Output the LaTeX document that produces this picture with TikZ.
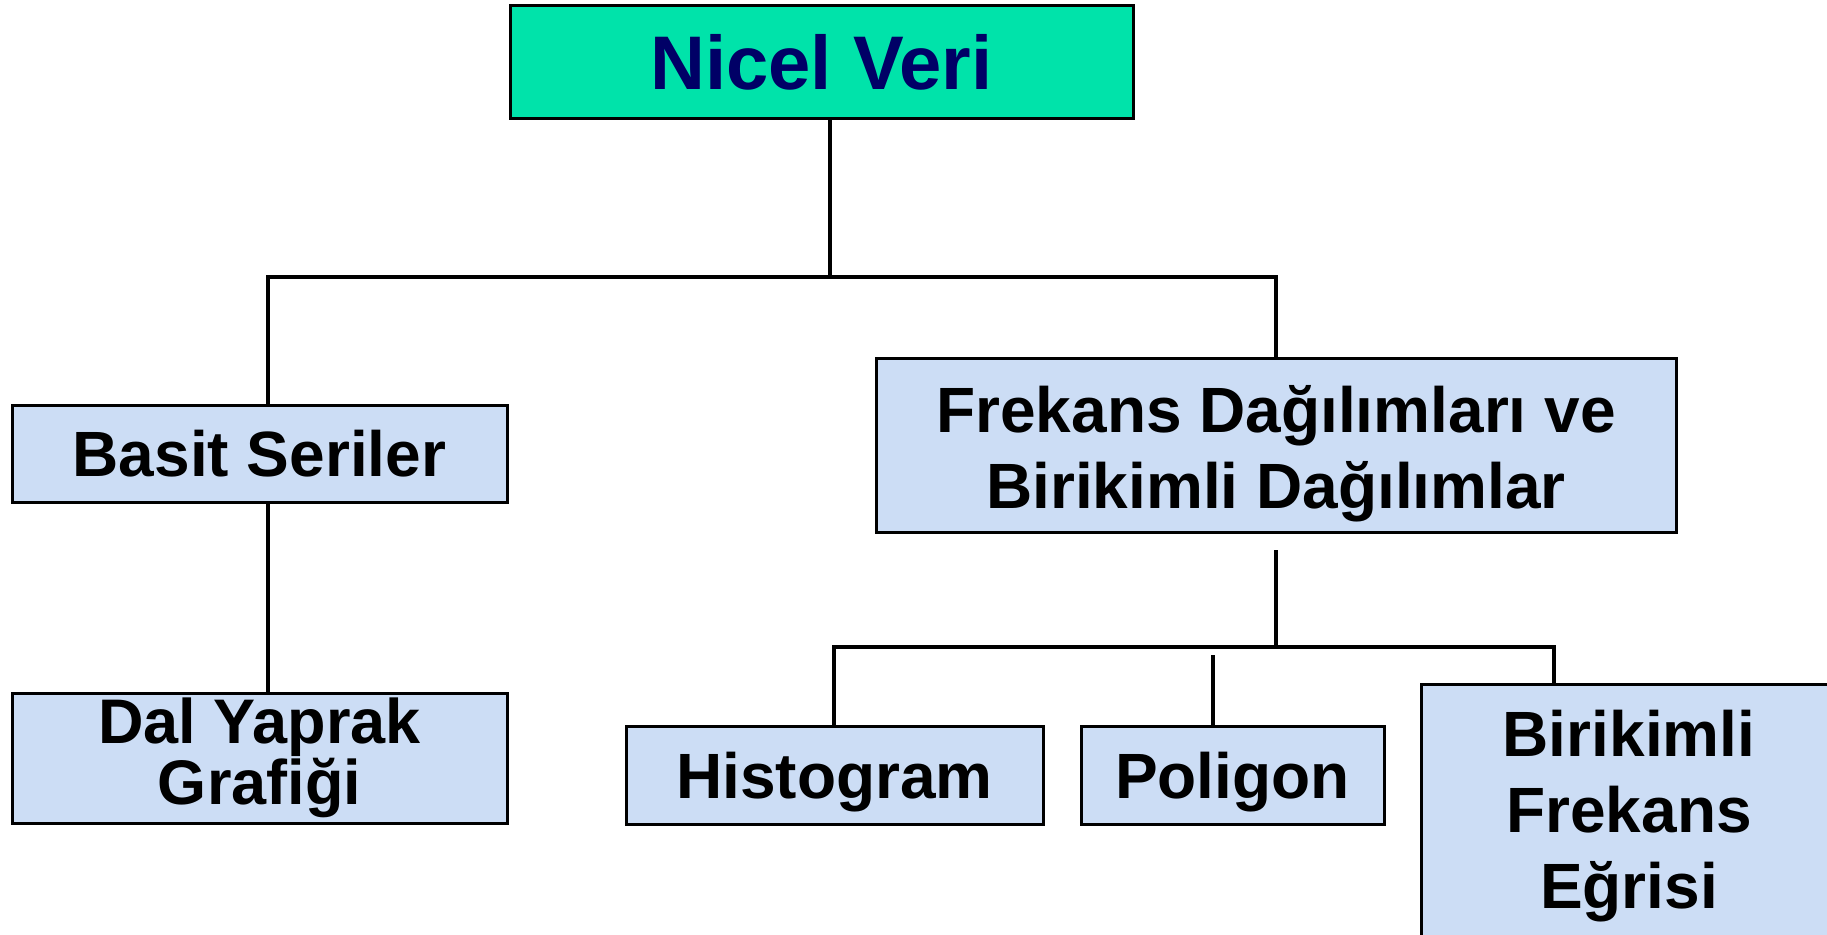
\documentclass[tikz,border=0pt]{standalone}
\usepackage{fontspec}
\setmainfont{Liberation Sans}
\definecolor{mint}{RGB}{0,227,170}
\definecolor{paleblue}{RGB}{204,221,245}
\definecolor{navy}{RGB}{0,0,102}
\begin{document}
\begin{tikzpicture}[x=1pt,y=-1pt,
  box/.style={draw=black, line width=3pt, fill=paleblue, inner sep=0pt, align=center,
    font=\bfseries\fontsize{64}{76}\selectfont},
  tag/.style={inner sep=0pt, align=center, font=\bfseries\fontsize{64}{76}\selectfont},
  link/.style={draw=black, line width=3.5pt}]
\useasboundingbox (0,0) rectangle (1827,934);
\begin{scope}
\clip (0,0) rectangle (1827,934);

% boxes
\node[box, fill=mint, text=navy, minimum width=623, minimum height=112,
  font=\bfseries\fontsize{76}{90}\selectfont] (nicel) at (821.5,62) {Nicel Veri};
\node[box, minimum width=495, minimum height=97] (basit) at (259.5,453.5) {Basit Seriler};
\node[box, minimum width=495, minimum height=130, font=\bfseries\fontsize{63}{50}\selectfont]
  (dal) at (259.5,758) {Dal Yaprak\\Grafiği};
\node[box, minimum width=800, minimum height=174] (frekans) at (1276,445) {};
\node[tag] (frekans-t) at (1276,454) {Frekans Dağılımları ve\\Birikimli Dağılımlar};
\node[box, minimum width=417, minimum height=98, text depth=0pt] (histo) at (834.5,775) {Histogram};
\node[box, minimum width=303, minimum height=98, text depth=0pt] (poli) at (1232.5,775) {Poligon};
\node[box, minimum width=416, minimum height=276] (egri) at (1629,822) {};
\node[tag] (egri-t) at (1629,816) {Birikimli\\Frekans\\Eğrisi};

% junction points
\coordinate (jT) at (830,277);
\coordinate (jL) at (268,277);
\coordinate (jR) at (1276,277);
\coordinate (kT) at (1276,550);
\coordinate (kM) at (1276,647);
\coordinate (kL) at (834,647);
\coordinate (kR) at (1554,647);
\coordinate (pT) at (1213,655);

% connectors
\draw[link] (nicel.south -| jT) -- (jT);
\draw[link] (basit.north -| jL) -- (jL) -- (jR) -- (frekans.north -| jR);
\draw[link] (basit.south -| jL) -- (dal.north -| jL);
\draw[link] (kT) -- (kM);
\draw[link] (histo.north -| kL) -- (kL) -- (kR) -- (egri.north -| kR);
\draw[link] (pT) -- (poli.north -| pT);
\end{scope}
\end{tikzpicture}
\end{document}
